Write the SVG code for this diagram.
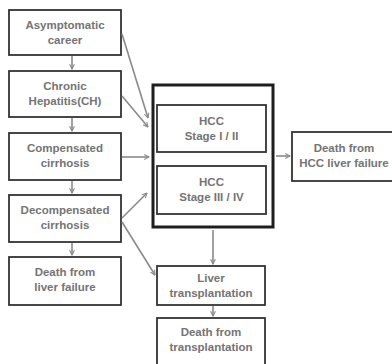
<svg xmlns="http://www.w3.org/2000/svg" width="392" height="364" viewBox="0 0 392 364">
  <style>
    .box { fill: #ffffff; stroke: #333333; stroke-width: 1.8; }
    .outer { fill: #ffffff; stroke: #1e1e1e; stroke-width: 3; }
    .lbl { font-family: "Liberation Sans", Arial, sans-serif; font-weight: bold; font-size: 11.5px; fill: #747474; text-anchor: middle; }
    .conn { stroke: #8a8a8a; stroke-width: 1.6; fill: none; marker-end: url(#ah); }
  </style>
  <defs>
    <marker id="ah" viewBox="0 0 10 10" refX="9" refY="5" markerWidth="6" markerHeight="6" orient="auto" markerUnits="userSpaceOnUse">
      <path d="M1,1 L9,5 L1,9" fill="none" stroke="#8a8a8a" stroke-width="1.8"/>
    </marker>
  </defs>
  <rect width="392" height="364" fill="#ffffff"/>

  <g id="asymptomatic">
    <rect class="box" x="9" y="10" width="112" height="45"/>
    <text class="lbl" x="65" y="29">Asymptomatic</text>
    <text class="lbl" x="65" y="44">career</text>
  </g>
  <g id="chronic-hepatitis">
    <rect class="box" x="9" y="71" width="112" height="46"/>
    <text class="lbl" x="65" y="90">Chronic</text>
    <text class="lbl" x="65" y="105">Hepatitis(CH)</text>
  </g>
  <g id="compensated">
    <rect class="box" x="9" y="133" width="112" height="47"/>
    <text class="lbl" x="65" y="152">Compensated</text>
    <text class="lbl" x="65" y="167">cirrhosis</text>
  </g>
  <g id="decompensated">
    <rect class="box" x="9" y="195" width="112" height="47"/>
    <text class="lbl" x="65" y="214">Decompensated</text>
    <text class="lbl" x="65" y="229">cirrhosis</text>
  </g>
  <g id="death-liver-failure">
    <rect class="box" x="9" y="257" width="112" height="48"/>
    <text class="lbl" x="65" y="276">Death from</text>
    <text class="lbl" x="65" y="291">liver failure</text>
  </g>

  <g id="hcc">
    <rect class="outer" x="153" y="85" width="120" height="142"/>
    <g id="hcc-stage-1-2">
      <rect class="box" x="157" y="105" width="109" height="47"/>
      <text class="lbl" x="211.5" y="125">HCC</text>
      <text class="lbl" x="211.5" y="140">Stage I / II</text>
    </g>
    <g id="hcc-stage-3-4">
      <rect class="box" x="157" y="166" width="109" height="48"/>
      <text class="lbl" x="211.5" y="186">HCC</text>
      <text class="lbl" x="211.5" y="201">Stage III / IV</text>
    </g>
  </g>

  <g id="death-hcc">
    <rect class="box" x="292" y="132" width="106" height="49"/>
    <text class="lbl" x="344" y="152">Death from</text>
    <text class="lbl" x="344" y="167">HCC liver failure</text>
  </g>

  <g id="liver-transplantation">
    <rect class="box" x="157" y="266" width="108" height="39"/>
    <text class="lbl" x="211" y="282">Liver</text>
    <text class="lbl" x="211" y="297">transplantation</text>
  </g>
  <g id="death-transplantation">
    <rect class="box" x="157" y="318" width="108" height="48"/>
    <text class="lbl" x="211" y="336">Death from</text>
    <text class="lbl" x="211" y="351">transplantation</text>
  </g>

  <g id="connectors">
    <line class="conn" x1="72" y1="56" x2="72" y2="69"/>
    <line class="conn" x1="72" y1="118" x2="72" y2="131"/>
    <line class="conn" x1="72" y1="181" x2="72" y2="193"/>
    <line class="conn" x1="72" y1="243" x2="72" y2="255"/>
    <line class="conn" x1="122" y1="34" x2="148" y2="118"/>
    <line class="conn" x1="122" y1="96" x2="148" y2="127"/>
    <line class="conn" x1="122" y1="157" x2="149" y2="157"/>
    <line class="conn" x1="122" y1="218" x2="147" y2="193"/>
    <line class="conn" x1="122" y1="222" x2="155" y2="275"/>
    <line class="conn" x1="213" y1="230" x2="213" y2="264"/>
    <line class="conn" x1="213" y1="306" x2="213" y2="316"/>
    <line class="conn" x1="276" y1="156" x2="290" y2="156"/>
  </g>
</svg>
